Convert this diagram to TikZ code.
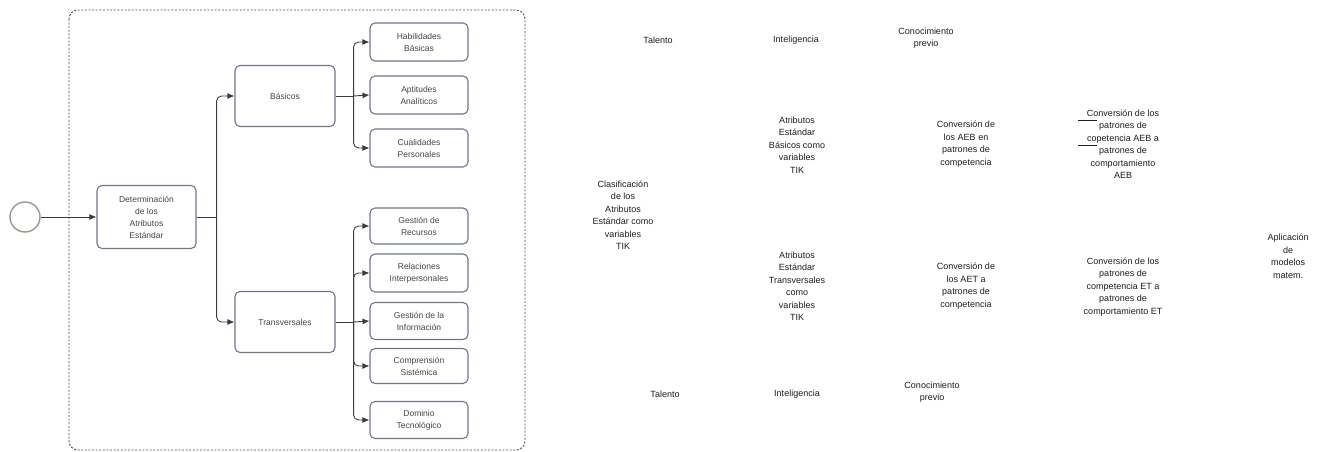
\documentclass[tikz,border=0pt]{standalone}
\usepackage{fontspec}
\setmainfont{Liberation Sans}
\usetikzlibrary{arrows.meta}
\definecolor{boxline}{RGB}{112,117,140}
\definecolor{boxtext}{RGB}{70,70,70}
\definecolor{linkcol}{RGB}{60,60,60}
\definecolor{framecol}{RGB}{80,80,80}
\definecolor{startcol}{RGB}{150,155,140}
\definecolor{labelcol}{RGB}{30,30,30}
\tikzset{
  taskbox/.style={draw=boxline, line width=1.1pt, rounded corners=5pt, fill=white,
    align=center, font=\fontsize{8.5}{12}\selectfont, text=boxtext, inner sep=1pt},
  leafbox/.style={taskbox, minimum width=98pt, minimum height=38pt},
  startev/.style={circle, draw=startcol, line width=1.4pt, minimum size=30pt, inner sep=0pt},
  stub/.style={draw=linkcol, line width=0.9pt},
  link/.style={draw=linkcol, line width=0.9pt, rounded corners=5pt,
    -{Latex[length=7pt,width=6pt]}},
  tag/.style={align=center, font=\fontsize{9}{12.5}\selectfont, text=labelcol, inner sep=0pt},
  groupframe/.style={draw=framecol, line width=0.9pt, dash pattern=on 2pt off 1.6pt, rounded corners=9pt}
}
\begin{document}
\begin{tikzpicture}[x=1pt,y=-1pt]
\useasboundingbox (0,0) rectangle (1331,452);
\fill[white] (0,0) rectangle (1331,452);

% group frame
\draw[groupframe] (69,10) rectangle (525,450);

% start event and main task
\node[startev] (start) at (25,217) {};
\node[taskbox, minimum width=99pt, minimum height=63pt] (det) at (146.5,217)
  {Determinación\\de los\\Atributos\\Estándar};

% second level
\node[taskbox, minimum width=100pt, minimum height=61pt] (bas) at (285,96) {Básicos};
\node[taskbox, minimum width=100pt, minimum height=61pt] (tra) at (285,322) {Transversales};

% leaves of Básicos
\node[leafbox] (hab) at (419,42)  {Habilidades\\Básicas};
\node[leafbox] (apt) at (419,95)  {Aptitudes\\Analíticos};
\node[leafbox] (cua) at (419,148) {Cualidades\\Personales};

% leaves of Transversales
\node[leafbox, minimum height=36pt] (rec) at (419,226) {Gestión de\\Recursos};
\node[leafbox] (rel) at (419,273) {Relaciones\\Interpersonales};
\node[leafbox, minimum height=37pt] (inf) at (419,321) {Gestión de la\\Información};
\node[leafbox, minimum height=35pt] (com) at (419,366) {Comprensión\\Sistémica};
\node[leafbox, minimum height=37pt] (dom) at (419,420) {Dominio\\Tecnológico};

% branch points
\coordinate (jd) at ([xshift=20pt]det.east);
\coordinate (jb) at ([xshift=18pt]bas.east);
\coordinate (jt) at ([xshift=18pt]tra.east);

% connectors
\draw[link] (start) -- (det);
\draw[stub] (det.east) -- (jd);
\draw[link] (jd) |- (bas.west);
\draw[link] (jd) |- (tra.west);

\draw[stub] (bas.east) -- (jb);
\draw[link] (jb) |- (hab.west);
\draw[link] (jb) -- (apt.west);
\draw[link] (jb) |- (cua.west);

\draw[stub] (tra.east) -- (jt);
\draw[link] (jt) |- (rec.west);
\draw[link] (jt) |- (rel.west);
\draw[link] (jt) -- (inf.west);
\draw[link] (jt) |- (com.west);
\draw[link] (jt) |- (dom.west);

% free-standing labels
\node[tag] (tal1) at (658,40) {Talento};
\node[tag] (int1) at (796,40) {Inteligencia};
\node[tag] (con1) at (926,38) {Conocimiento\\previo};

\node[tag] (clas) at (623,215) {Clasificación\\de los\\Atributos\\Estándar como\\variables\\TIK};
\node[tag] (aeb) at (797,145) {Atributos\\Estándar\\Básicos como\\variables\\TIK};
\node[tag] (aet) at (797,286) {Atributos\\Estándar\\Transversales\\como\\variables\\TIK};

\node[tag] (cvb) at (966,144) {Conversión de\\los AEB en\\patrones de\\competencia};
\node[tag] (cvt) at (966,286) {Conversión de\\los AET a\\patrones de\\competencia};

\node[tag] (pcb) at (1123,144) {Conversión de los\\patrones de\\copetencia AEB a\\patrones de\\comportamiento\\AEB};
\node[tag] (pct) at (1123,287) {Conversión de los\\patrones de\\competencia ET a\\patrones de\\comportamiento ET};

\node[tag] (apl) at (1288,256) {Aplicación\\de\\modelos\\matem.};

\node[tag] (tal2) at (665,394) {Talento};
\node[tag] (int2) at (797,394) {Inteligencia};
\node[tag] (con2) at (932,392) {Conocimiento\\previo};

% short strokes beside two lines of pcb
\draw[labelcol, line width=0.8pt] (1078,120) -- (1097,120);
\draw[labelcol, line width=0.8pt] (1078,145) -- (1097,145);
\end{tikzpicture}
\end{document}
